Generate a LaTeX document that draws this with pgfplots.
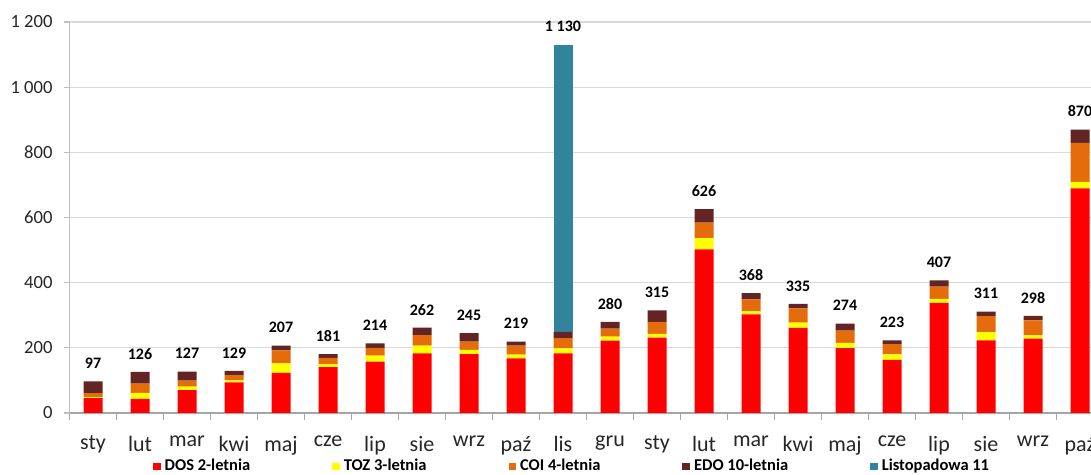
\documentclass[border=0pt]{standalone}
\usepackage{fontspec}
\setmainfont{Carlito}
\usepackage{pgfplots}
\usepackage{pgfplotstable}
\pgfplotsset{compat=1.18}
\definecolor{cred}{HTML}{FF0000}
\definecolor{cyel}{HTML}{FFFF00}
\definecolor{corg}{HTML}{E46C0A}
\definecolor{cbrn}{HTML}{632523}
\definecolor{cteal}{HTML}{31849B}
\definecolor{cgrid}{HTML}{D9D9D9}
\definecolor{caxis}{HTML}{BFBFBF}
\definecolor{cxaxis}{HTML}{A6A6A6}

\pgfplotstableread{
x red yellow orange brown teal total
0 46 3 12 36 0 97
1 43 19 28 36 0 126
2 70 11 18 28 0 127
3 94 6 16 13 0 129
4 123 29 40 15 0 207
5 141 9 19 12 0 181
6 158 18 24 14 0 214
7 183 24 32 23 0 262
8 181 13 25 26 0 245
9 168 11 28 12 0 219
10 183 15 32 19 881 1130
11 222 12 25 21 0 280
12 231 12 37 35 0 315
13 502 35 47 42 0 626
14 303 9 37 19 0 368
15 261 16 44 14 0 335
16 199 16 38 21 0 274
17 163 17 31 12 0 223
18 338 12 38 19 0 407
19 223 25 49 14 0 311
20 228 10 46 14 0 298
21 689 20 120 41 0 870
}\datatab

\pgfplotsset{common/.style={
  at={(34.75pt,31pt)}, anchor=south west,
  scale only axis, width=510.75pt, height=195.5pt,
  xmin=-0.5, xmax=21.234, ymin=0, ymax=1200,
  /pgf/number format/assume math mode=true,
  /pgf/number format/1000 sep={\ },
}}

\begin{document}
\begin{tikzpicture}
\clip (0,0) rectangle (545.5pt,237.5pt);
\begin{axis}[
  common,
  ybar stacked, bar width=9.5pt,
  axis lines*=left,
  x axis line style={cxaxis, line width=0.6pt},
  y axis line style={caxis, line width=0.6pt},
  ytick={0,200,...,1200},
  ymajorgrids, major grid style={cgrid, line width=0.6pt},
  xtick={0,...,21},
  xticklabels={sty,lut,mar,kwi,maj,cze,lip,sie,wrz,paź,lis,gru,sty,lut,mar,kwi,maj,cze,lip,sie,wrz,paź},
  minor xtick={-0.5,0.5,...,21.5},
  major x tick style={draw=none},
  minor x tick style={cxaxis, line width=0.6pt},
  ytick style={caxis, line width=0.6pt},
  tick align=outside,
  major tick length=3pt, minor tick length=3.5pt,
  xticklabel style={font=\fontsize{11}{13}\selectfont, text=black!85, yshift=-5pt},
  yticklabel style={font=\fontsize{9.3}{11}\selectfont, text=black!85, xshift=-2pt},
  legend columns=5,
  legend style={at={(axis description cs:0.0756,-0.1373)}, anchor=west,
    draw=none, fill=none,
    font=\bfseries\fontsize{8.25}{10}\selectfont,
    /tikz/every even column/.append style={column sep=39pt}},
  legend image code/.code={\fill[#1] (0pt,-1.9pt) rectangle (3.8pt,1.9pt);},
]
\addplot[fill=cred, draw=none] table[x=x,y=red]{\datatab};
\addlegendentry{DOS 2-letnia}
\addplot[fill=cyel, draw=none] table[x=x,y=yellow]{\datatab};
\addlegendentry{TOZ 3-letnia}
\addplot[fill=corg, draw=none] table[x=x,y=orange]{\datatab};
\addlegendentry{COI 4-letnia}
\addplot[fill=cbrn, draw=none] table[x=x,y=brown]{\datatab};
\addlegendentry{EDO 10-letnia}
\addplot[fill=cteal, draw=none] table[x=x,y=teal]{\datatab};
\addlegendentry{Listopadowa 11}
\end{axis}
\begin{axis}[common, hide axis, clip=false]
\addplot[draw=none, mark=none, nodes near coords, point meta=explicit,
  nodes near coords style={font=\bfseries\fontsize{8}{9.5}\selectfont, text=black, anchor=center, yshift=9pt}]
  table[x=x,y=total,meta=total]{\datatab};
\end{axis}
\end{tikzpicture}
\end{document}
